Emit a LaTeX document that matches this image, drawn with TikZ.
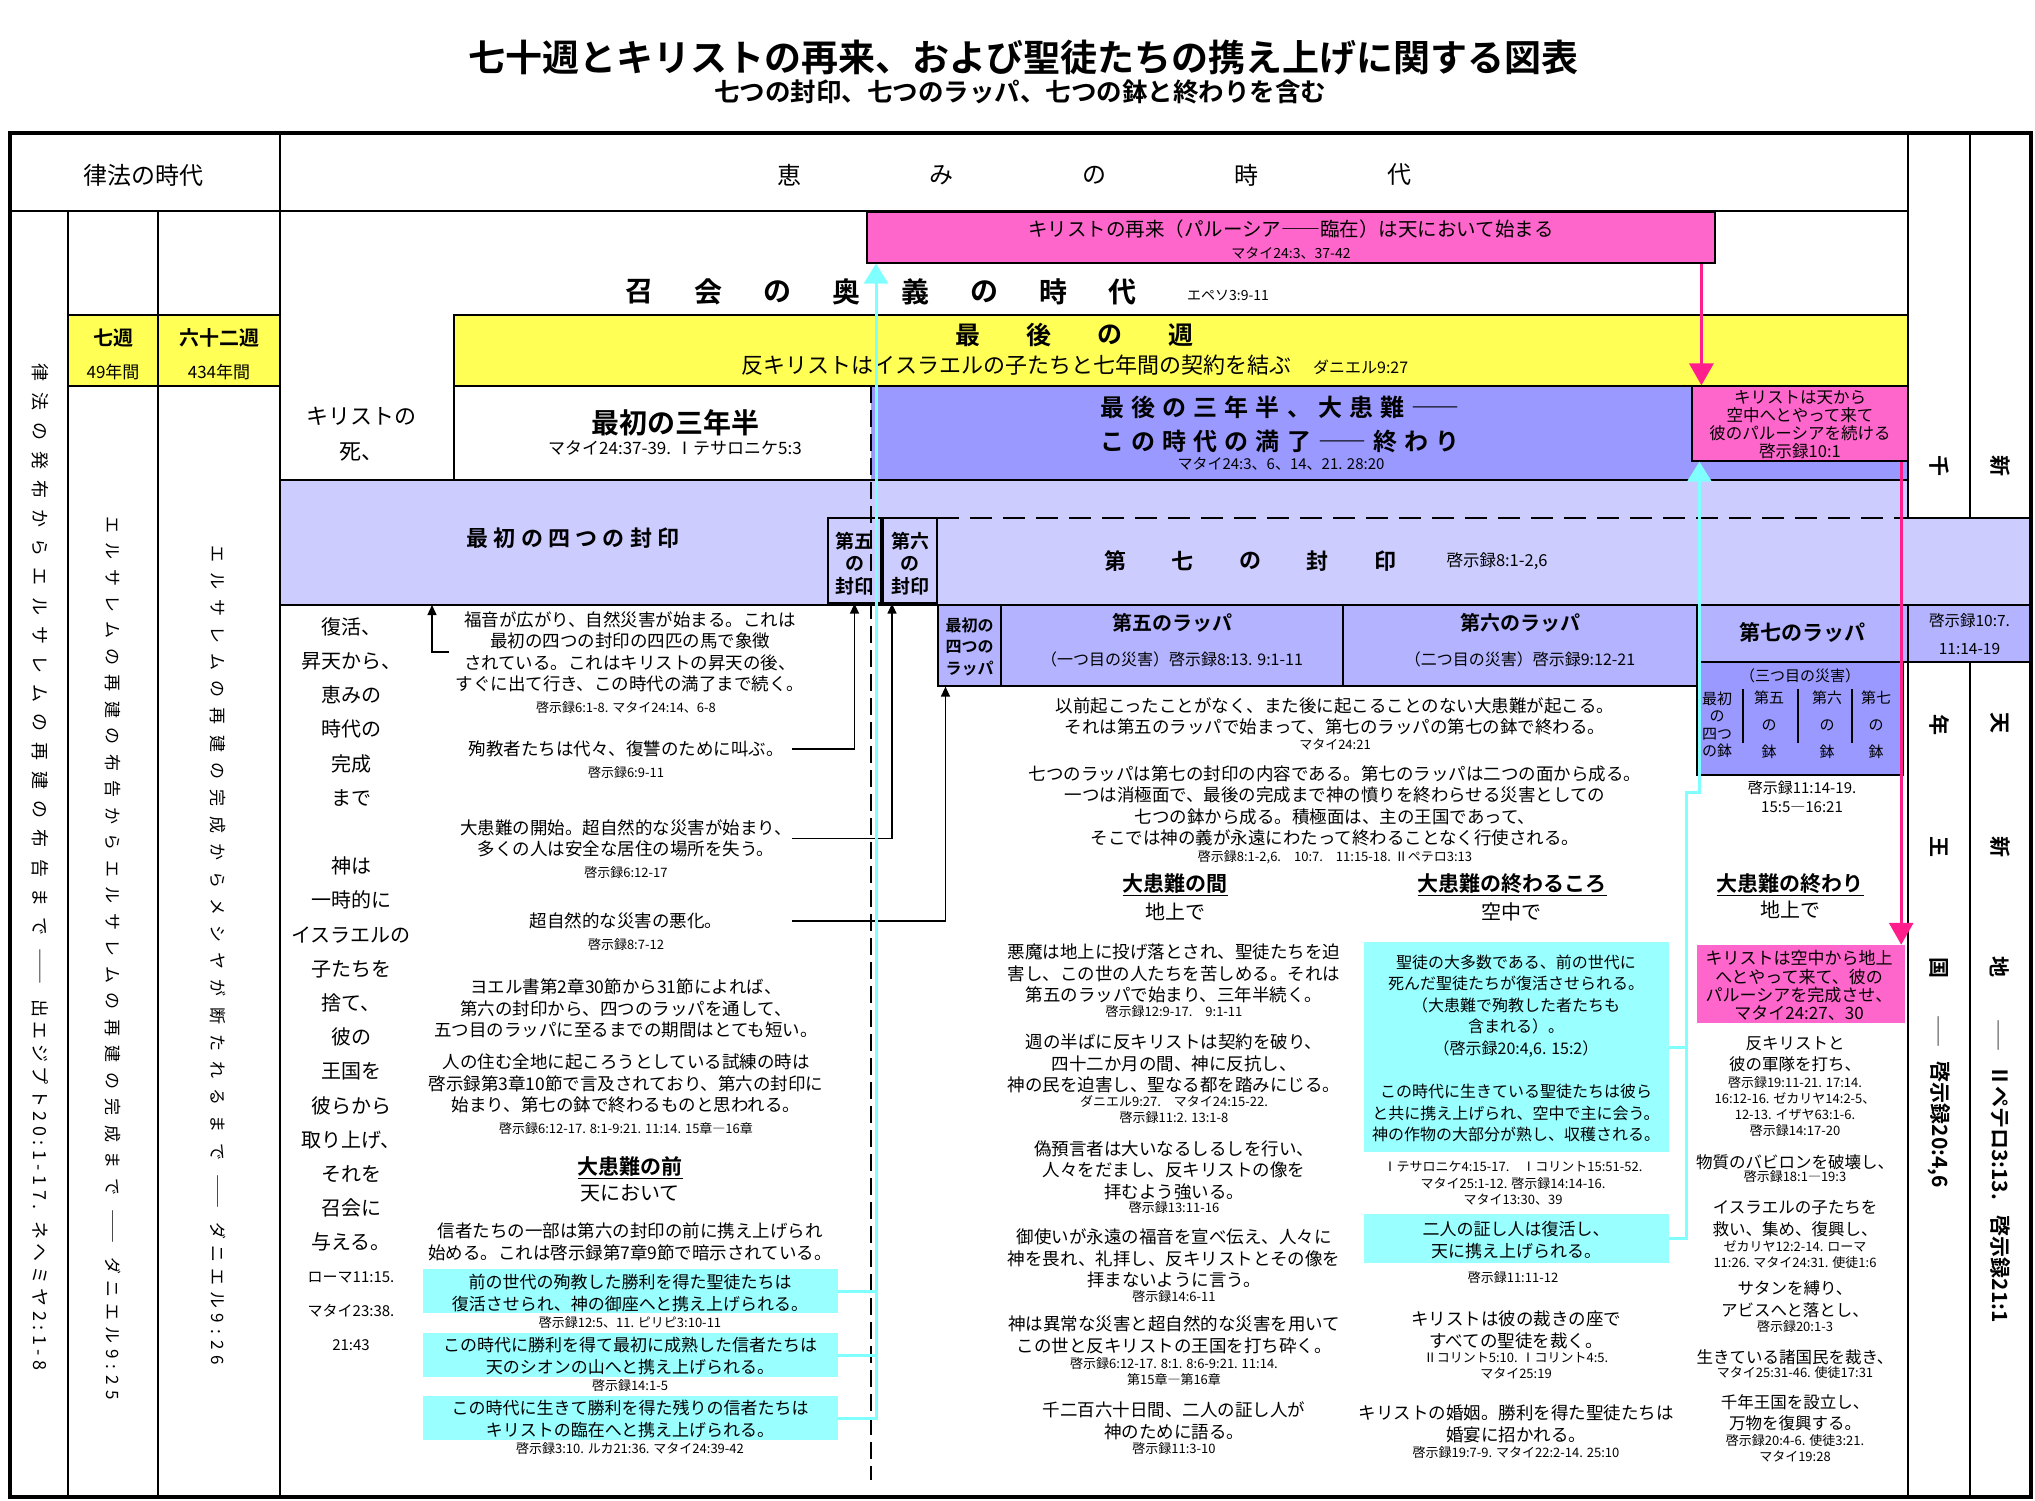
\documentclass[tikz,border=0pt]{standalone}
\usepackage{fontspec}
\setmainfont{Noto Sans CJK JP}[BoldFont={Noto Sans CJK JP Bold}]
\usetikzlibrary{arrows.meta,fit}

\definecolor{weekyellow}{RGB}{255,255,85}
\definecolor{parpink}{RGB}{255,102,204}
\definecolor{arrowpink}{RGB}{255,30,140}
\definecolor{tribblue}{RGB}{153,153,255}
\definecolor{sealblue}{RGB}{204,204,255}
\definecolor{trumpblue}{RGB}{179,179,255}
\definecolor{raptcyan}{RGB}{153,255,255}
\definecolor{linecyan}{RGB}{128,255,255}

\newcommand{\fsz}[2]{\fontsize{#1}{#2}\selectfont}

\begin{document}
\begin{tikzpicture}[x=1pt, y=-1pt,
    cell/.style={draw=black, line width=1.2pt, inner sep=0pt},
    cyanbox/.style={fill=raptcyan, inner sep=0pt},
    intext/.style={align=center, inner sep=0pt},
    tabline/.style={line width=1.2pt},
    bodytxt/.style={align=center, inner sep=0pt, font=\fsz{17.5}{21.5}},
    sidetxt/.style={align=center, inner sep=0pt, font=\fsz{16.5}{21.5}},
    refs/.style={align=center, inner sep=0pt, font=\fsz{13}{16}},
    headline/.style={inner sep=0pt, font=\bfseries\fsz{21}{24}},
    subline/.style={inner sep=0pt, font=\fsz{20}{24}},
    vert/.style={inner sep=0pt, rotate=-90, font=\fsz{17}{20}},
    colchar/.style={inner sep=0pt, rotate=-90, font=\bfseries\fsz{21}{24}},
    arr/.style={-{Triangle[length=10pt,width=9pt]}, line width=1.3pt},
    pinkarr/.style={-{Triangle[length=22pt,width=24pt]}, draw=arrowpink, line width=3pt},
    cyanarr/.style={-{Triangle[length=20pt,width=24pt]}, draw=linecyan, line width=3pt},
    cyanline/.style={draw=linecyan, line width=3pt}]
    \useasboundingbox (0,0) rectangle (2035,1500);

    % Title
    \node[font=\bfseries\fsz{37}{40}] (title) at (1023,58) {七十週とキリストの再来、および聖徒たちの携え上げに関する図表};
    \node[font=\bfseries\fsz{25.5}{28}] (subtitle) at (1020,92) {七つの封印、七つのラッパ、七つの鉢と終わりを含む};

    % Coloured fields
    \node[fill=tribblue, inner sep=0pt, fit={(871,386) (1908,480)}] (lasthalf) {};
    \fill[sealblue] (280,480) -- (1908,480) -- (1908,518) -- (2031,518) -- (2031,605) -- (280,605) -- cycle;

    \node[cell, fill=weekyellow, fit={(68,315) (158,386)}] (sevenweeks) {};
    \node[cell, fill=weekyellow, fit={(158,315) (280,386)}] (sixtytwo) {};
    \node[cell, fill=weekyellow, fit={(454,315) (1908,386)}] (lastweek) {};
    \node[cell, fill=parpink, fit={(867,212) (1715,263)}] (parousia) {};
    \node[cell, fill=parpink, fit={(1692,386) (1908,461)}] (continue) {};
    \node[cell, fill=sealblue, fit={(828,518) (881,603)}] (seal5) {};
    \node[cell, fill=sealblue, fit={(883,518) (937,603)}] (seal6) {};
    \node[cell, fill=trumpblue, fit={(938,605) (1001,686)}] (trump4) {};
    \node[cell, fill=trumpblue, fit={(1001,605) (1343,686)}] (trump5) {};
    \node[cell, fill=trumpblue, fit={(1343,605) (1697,686)}] (trump6) {};
    \node[cell, fill=trumpblue, fit={(1697,605) (1908,662)}] (trump7) {};
    \node[cell, fill=tribblue, fit={(1697,662) (1903,775)}] (bowls) {};
    \node[cell, fill=trumpblue, fit={(1908,605) (2031,662)}] (rev107) {};
    \node[cyanbox, fit={(423,1269) (838,1313)}] (rapture1) {};
    \node[cyanbox, fit={(423,1333) (838,1377)}] (rapture2) {};
    \node[cyanbox, fit={(423,1396) (838,1440)}] (rapture3) {};
    \node[cyanbox, fit={(1364,942) (1669,1152)}] (bigcyan) {};
    \node[cyanbox, fit={(1364,1214) (1669,1263)}] (twowit) {};
    \node[fill=parpink, inner sep=0pt, fit={(1697,945) (1905,1023)}] (complete) {};

    % Table lines
    \draw[line width=3.5pt] (10,133) rectangle (2031,1497);
    \draw[tabline] (10,211) -- (1908,211);
    \draw[tabline] (280,133) -- (280,1497);
    \draw[tabline] (68,211) -- (68,1497);
    \draw[tabline] (158,211) -- (158,1497);
    \draw[tabline] (1908,133) -- (1908,518);
    \draw[tabline] (1908,662) -- (1908,1497);
    \draw[tabline] (1970,133) -- (1970,518);
    \draw[tabline] (1970,662) -- (1970,1497);
    \draw[tabline] (454,386) -- (454,480);
    \draw[tabline] (280,480) -- (1908,480) -- (1908,518) -- (2031,518);
    \draw[tabline] (280,605) -- (2031,605);
    \draw[tabline, dash pattern=on 17pt off 7pt] (871,386) -- (871,1480);
    \draw[tabline, dash pattern=on 22pt off 11pt] (937,518) -- (1908,518);

    % Box texts
    \node[intext, font=\fsz{17}{33}] (sevenweekstxt) at (113,354.5) {{\bfseries\fsz{20}{33}七週}\\49年間};
    \node[intext, font=\fsz{17}{33}] (sixtytwotxt) at (219,354.5) {{\bfseries\fsz{20}{33}六十二週}\\434年間};
    \node[intext, font=\fsz{14}{22}] (parousiatxt) at (1291,240) {{\fsz{19.5}{22}キリストの再来（パルーシア――臨在）は天において始まる}\\マタイ24:3、37-42};
    \node[intext, font=\fsz{16.5}{18}] (continuetxt) at (1800,425) {キリストは天から\\空中へとやって来て\\彼のパルーシアを続ける\\啓示録10:1};
    \node[intext, font=\bfseries\fsz{19}{22.5}] (seal5txt) at (854.5,563.5) {第五\\の\\封印};
    \node[intext, font=\bfseries\fsz{19}{22.5}] (seal6txt) at (910,563.5) {第六\\の\\封印};
    \node[intext, font=\bfseries\fsz{16}{21.5}] (trump4txt) at (969.5,646.5) {最初の\\四つの\\ラッパ};
    \node[intext, font=\fsz{16}{35}] (trump5txt) at (1172,640.5) {{\bfseries\fsz{20}{35}第五のラッパ}\\（一つ目の災害）啓示録8:13. 9:1-11};
    \node[intext, font=\fsz{16}{35}] (trump6txt) at (1520,640.5) {{\bfseries\fsz{20}{35}第六のラッパ}\\（二つ目の災害）啓示録9:12-21};
    \node[intext, font=\bfseries\fsz{21}{24}] (trump7txt) at (1802.5,632) {第七のラッパ};
    \node[intext, font=\fsz{15.5}{28}] (rev107txt) at (1969.5,634) {啓示録10:7.\\11:14-19};
    \node[intext, font=\fsz{17}{22}] (rapture1txt) at (630,1293) {前の世代の殉教した勝利を得た聖徒たちは\\復活させられ、神の御座へと携え上げられる。};
    \node[intext, font=\fsz{17}{22}] (rapture2txt) at (630,1356) {この時代に勝利を得て最初に成熟した信者たちは\\天のシオンの山へと携え上げられる。};
    \node[intext, font=\fsz{17}{22}] (rapture3txt) at (630,1418.5) {この時代に生きて勝利を得た残りの信者たちは\\キリストの臨在へと携え上げられる。};
    \node[intext, font=\fsz{16}{21.6}] (bigcyantxt) at (1516,1048.5) {聖徒の大多数である、前の世代に\\死んだ聖徒たちが復活させられる。\\（大患難で殉教した者たちも\\含まれる）。\\（啓示録20:4,6. 15:2）\\[21.6pt]この時代に生きている聖徒たちは彼ら\\と共に携え上げられ、空中で主に会う。\\神の作物の大部分が熟し、収穫される。};
    \node[intext, font=\fsz{17}{22}] (twowittxt) at (1516,1240) {二人の証し人は復活し、\\天に携え上げられる。};
    \node[intext, font=\fsz{17}{18.3}] (completetxt) at (1799,985.5) {キリストは空中から地上\\へとやって来て、彼の\\パルーシアを完成させ、\\マタイ24:27、30};

    % Header texts
    \node[font=\fsz{24}{28}] (lawera) at (143,175) {律法の時代};
    \foreach \c [count=\i from 0] in {恵,み,の,時,代}
        \node[font=\fsz{24}{28}] (grace\i) at (789+152.5*\i,175) {\c};
    \foreach \c [count=\i from 0] in {召,会,の,奥,義,の,時,代}
        \node[font=\bfseries\fsz{28}{30}] (mystery\i) at (639+69*\i,292) {\c};
    \node[font=\fsz{14}{16}] (eph) at (1228,296) {エペソ3:9-11};
    \foreach \c [count=\i from 0] in {最,後,の,週}
        \node[font=\bfseries\fsz{25}{28}] (lastwk\i) at (968+71*\i,335) {\c};
    \node[font=\fsz{22}{26}] (covenant) at (1075,365) {反キリストはイスラエルの子たちと七年間の契約を結ぶ\quad{\fsz{16}{26}ダニエル9:27}};
    \node[font=\fsz{22}{35}, align=center] (death) at (361,434.5) {キリストの\\死、};
    \node[font=\bfseries\fsz{28}{30}] (firsthalf) at (675,423) {最初の三年半};
    \node[font=\fsz{17}{20}] (firsthalfref) at (675,448) {マタイ24:37-39. Ⅰテサロニケ5:3};
    \node[font=\bfseries\fsz{24}{34}\addfontfeature{LetterSpace=30}, align=center] (greattrib) at (1280,424) {最後の三年半、大患難――\\この時代の満了――終わり};
    \node[font=\fsz{15}{18}] (greatref) at (1281,464) {マタイ24:3、6、14、21. 28:20};
    \node[font=\bfseries\fsz{22}{26}\addfontfeature{LetterSpace=24}] (fourseals) at (573,538) {最初の四つの封印};
    \foreach \c [count=\i from 0] in {第,七,の,封,印}
        \node[font=\bfseries\fsz{22}{26}] (seventh\i) at (1115+67.5*\i,561) {\c};
    \node[font=\fsz{16.5}{20}] (rev8) at (1497,561) {啓示録8:1-2,6};

    % Bowls of the seventh trumpet
    \node[font=\fsz{15}{18}] (plague3) at (1800,676) {（三つ目の災害）};
    \node[intext, font=\fsz{15}{17.5}] (bowl4) at (1717,725) {最初\\の\\四つ\\の鉢};
    \foreach \n/\xx [count=\i from 5] in {五/1769,六/1827,七/1876}
        \node[intext, font=\fsz{15}{27}] (bowl\i) at (\xx,725) {第\n\\の\\鉢};
    \foreach \xx in {1743,1798,1852}
        \draw[line width=1.5pt] (\xx,689) -- (\xx,743);
    \node[intext, font=\fsz{15}{19}] (rev1114) at (1802,797) {啓示録11:14-19.\\15:5―16:21};

    % Vertical columns
    \node[vert, font=\fsz{18}{20}] (lawcol) at (40,867) {{\addfontfeature{LetterSpace=62}律法の発布からエルサレムの再建の布告まで}\hspace{13pt}――\hspace{15pt}{\addfontfeature{LetterSpace=25}出エジプト20:1-17. ネヘミヤ2:1-8}};
    \node[vert] (sevencol) at (113,958) {{\addfontfeature{LetterSpace=56}エルサレムの再建の布告からエルサレムの再建の完成まで}\hspace{14pt}――\hspace{14pt}{\addfontfeature{LetterSpace=35}ダニエル9:25}};
    \node[vert] (sixtycol) at (218,955) {{\addfontfeature{LetterSpace=60}エルサレムの再建の完成からメシヤが断たれるまで}\hspace{14pt}――\hspace{14pt}{\addfontfeature{LetterSpace=35}ダニエル9:26}};
    \foreach \c/\yy [count=\i] in {千/466,年/725,王/847,国/968}
        \node[colchar] (kingdom\i) at (1939,\yy) {\c};
    \node[colchar] (kingdomref) at (1939,1102) {{\fsz{16}{20}――}\hspace{14pt}啓示録20:4,6};
    \foreach \c/\yy [count=\i] in {新/466,天/723,新/847,地/967}
        \node[colchar] (newworld\i) at (2000,\yy) {\c};
    \node[colchar] (newworldref) at (2000,1171) {{\fsz{16}{20}――}\hspace{14pt}Ⅱペテロ3:13.\hspace{16pt}啓示録21:1};

    % Left text column
    \node[align=center, inner sep=0pt, font=\fsz{20}{34.2}] (rejection) at (351,934.5) {復活、\\昇天から、\\恵みの\\時代の\\完成\\まで\\[34.2pt]神は\\一時的に\\イスラエルの\\子たちを\\捨て、\\彼の\\王国を\\彼らから\\取り上げ、\\それを\\召会に\\与える。};
    \node[align=center, inner sep=0pt, font=\fsz{15}{34.2}] (romeref) at (351,1311) {ローマ11:15.\\マタイ23:38.\\21:43};

    % Before the tribulation
    \node[bodytxt] (gospel) at (630,652) {福音が広がり、自然災害が始まる。これは\\最初の四つの封印の四匹の馬で象徴\\されている。これはキリストの昇天の後、\\すぐに出て行き、この時代の満了まで続く。};
    \node[refs] (gospelref) at (626,708) {啓示録6:1-8. マタイ24:14、6-8};
    \node[bodytxt] (martyr) at (626,749) {殉教者たちは代々、復讐のために叫ぶ。};
    \node[refs] (martyrref) at (626,773) {啓示録6:9-11};
    \node[bodytxt] (tribstart) at (626,838.5) {大患難の開始。超自然的な災害が始まり、\\多くの人は安全な居住の場所を失う。};
    \node[refs] (tribstartref) at (626,873) {啓示録6:12-17};
    \node[bodytxt] (worse) at (626,921) {超自然的な災害の悪化。};
    \node[refs] (worseref) at (626,945) {啓示録8:7-12};
    \node[bodytxt] (joel) at (626,1008.5) {ヨエル書第2章30節から31節によれば、\\第六の封印から、四つのラッパを通して、\\五つ目のラッパに至るまでの期間はとても短い。};
    \node[bodytxt] (trial) at (626,1083.5) {人の住む全地に起ころうとしている試練の時は\\啓示録第3章10節で言及されており、第六の封印に\\始まり、第七の鉢で終わるものと思われる。};
    \node[refs] (trialref) at (626,1129) {啓示録6:12-17. 8:1-9:21. 11:14. 15章―16章};
    \node[headline] (before) at (630,1168) {\underline{大患難の前}};
    \node[subline] (inheaven) at (630,1193) {天において};
    \node[bodytxt] (partial) at (630,1242) {信者たちの一部は第六の封印の前に携え上げられ\\始める。これは啓示録第7章9節で暗示されている。};
    \node[refs] (rap1ref) at (630,1323) {啓示録12:5、11. ピリピ3:10-11};
    \node[refs] (rap2ref) at (630,1386) {啓示録14:1-5};
    \node[refs] (rap3ref) at (630,1449) {啓示録3:10. ルカ21:36. マタイ24:39-42};

    % Great tribulation
    \node[bodytxt] (greatest) at (1335,716.5) {以前起こったことがなく、また後に起こることのない大患難が起こる。\\それは第五のラッパで始まって、第七のラッパの第七の鉢で終わる。};
    \node[refs] (greatestref) at (1335,744) {マタイ24:21};
    \node[bodytxt] (trumpets) at (1335,806) {七つのラッパは第七の封印の内容である。第七のラッパは二つの面から成る。\\一つは消極面で、最後の完成まで神の憤りを終わらせる災害としての\\七つの鉢から成る。積極面は、主の王国であって、\\そこでは神の義が永遠にわたって終わることなく行使される。};
    \node[refs] (trumpetsref) at (1335,857) {啓示録8:1-2,6.\quad 10:7.\quad 11:15-18. Ⅱペテロ3:13};

    \node[headline] (tribmid) at (1175,885) {\underline{大患難の間}};
    \node[subline] (onearth) at (1175,912) {地上で};
    \node[headline] (tribend) at (1512,885) {\underline{大患難の終わるころ}};
    \node[subline] (inair) at (1511,912) {空中で};
    \node[headline] (tribfinal) at (1790,885) {\underline{大患難の終わり}};
    \node[subline] (onearth2) at (1790,910) {地上で};

    \node[bodytxt] (devil) at (1174,973.5) {悪魔は地上に投げ落とされ、聖徒たちを迫\\害し、この世の人たちを苦しめる。それは\\第五のラッパで始まり、三年半続く。};
    \node[refs] (devilref) at (1174,1012) {啓示録12:9-17.\quad 9:1-11};
    \node[bodytxt] (midweek) at (1174,1063.5) {週の半ばに反キリストは契約を破り、\\四十二か月の間、神に反抗し、\\神の民を迫害し、聖なる都を踏みにじる。};
    \node[refs] (midweekref) at (1174,1110) {ダニエル9:27.\quad マタイ24:15-22.\\啓示録11:2. 13:1-8};
    \node[bodytxt] (falseprophet) at (1174,1170) {偽預言者は大いなるしるしを行い、\\人々をだまし、反キリストの像を\\拝むよう強いる。};
    \node[refs] (fpref) at (1174,1208) {啓示録13:11-16};
    \node[bodytxt] (angel) at (1174,1258.5) {御使いが永遠の福音を宣べ伝え、人々に\\神を畏れ、礼拝し、反キリストとその像を\\拝まないように言う。};
    \node[refs] (angelref) at (1174,1297) {啓示録14:6-11};
    \node[bodytxt] (plagues) at (1174,1335) {神は異常な災害と超自然的な災害を用いて\\この世と反キリストの王国を打ち砕く。};
    \node[refs] (plaguesref) at (1174,1371.5) {啓示録6:12-17. 8:1. 8:6-9:21. 11:14.\\第15章―第16章};
    \node[bodytxt] (witnesses) at (1174,1421) {千二百六十日間、二人の証し人が\\神のために語る。};
    \node[refs] (witref) at (1174,1449) {啓示録11:3-10};

    \node[refs, font=\fsz{13}{16.5}] (bigcyanref) at (1513,1183.5) {Ⅰテサロニケ4:15-17.\quad Ⅰコリント15:51-52.\\マタイ25:1-12. 啓示録14:14-16.\\マタイ13:30、39};
    \node[refs] (twowitref) at (1513,1278) {啓示録11:11-12};
    \node[bodytxt] (judgment) at (1516,1330) {キリストは彼の裁きの座で\\すべての聖徒を裁く。};
    \node[refs] (judgref) at (1516,1365.5) {Ⅱコリント5:10. Ⅰコリント4:5.\\マタイ25:19};
    \node[bodytxt] (marriage) at (1516,1424) {キリストの婚姻。勝利を得た聖徒たちは\\婚宴に招かれる。};
    \node[refs] (marref) at (1516,1453) {啓示録19:7-9. マタイ22:2-14. 25:10};

    % End of the tribulation
    \node[sidetxt] (antichrist) at (1795,1054) {反キリストと\\彼の軍隊を打ち、};
    \node[refs] (acref) at (1795,1107) {啓示録19:11-21. 17:14.\\16:12-16. ゼカリヤ14:2-5、\\12-13. イザヤ63:1-6.\\啓示録14:17-20};
    \node[sidetxt] (babylon) at (1795,1162) {物質のバビロンを破壊し、};
    \node[refs] (babref) at (1795,1177) {啓示録18:1―19:3};
    \node[sidetxt] (israel) at (1795,1218.5) {イスラエルの子たちを\\救い、集め、復興し、};
    \node[refs] (isref) at (1795,1255) {ゼカリヤ12:2-14. ローマ\\11:26. マタイ24:31. 使徒1:6};
    \node[sidetxt] (satan) at (1795,1299) {サタンを縛り、\\アビスへと落とし、};
    \node[refs] (satref) at (1795,1327) {啓示録20:1-3};
    \node[sidetxt] (nations) at (1795,1357) {生きている諸国民を裁き、};
    \node[refs] (natref) at (1795,1373) {マタイ25:31-46. 使徒17:31};
    \node[sidetxt] (millennium) at (1795,1412.5) {千年王国を設立し、\\万物を復興する。};
    \node[refs] (milref) at (1795,1448.5) {啓示録20:4-6. 使徒3:21.\\マタイ19:28};

    % Arrows
    \coordinate (feed) at (792,0);
    \coordinate (tapA) at (432,605);
    \draw[arr] ([xshift=-6pt]gospel.west) -| (tapA);
    \draw[arr] (martyr.east -| feed) -| (seal5.south);
    \draw[arr] (tribstart.east -| feed) -| ([xshift=-18pt]seal6.south);
    \draw[arr] (worse.east -| feed) -| ([xshift=-24pt]trump4.south);

    \coordinate (trunkA) at (876,0);
    \draw[cyanarr] (rapture3.east) -| (trunkA |- parousia.south);
    \draw[cyanline] (rapture1.east) -- (rapture1.east -| trunkA);
    \draw[cyanline] (rapture2.east) -- (rapture2.east -| trunkA);

    \coordinate (trunkB) at (1686,792);
    \coordinate (cyanB) at ([xshift=8pt]continue.south west);
    \draw[cyanarr] (twowit.east) -| (trunkB) -| (cyanB);
    \draw[cyanline] (bigcyan.east) -- (bigcyan.east -| trunkB);

    \coordinate (pinkA) at ([xshift=10pt]continue.north west);
    \draw[pinkarr] (pinkA |- parousia.south) -- (pinkA);
    \coordinate (pinkB) at ([xshift=-4pt]complete.north east);
    \draw[pinkarr] (pinkB |- continue.south) -- (pinkB);
\end{tikzpicture}
\end{document}
